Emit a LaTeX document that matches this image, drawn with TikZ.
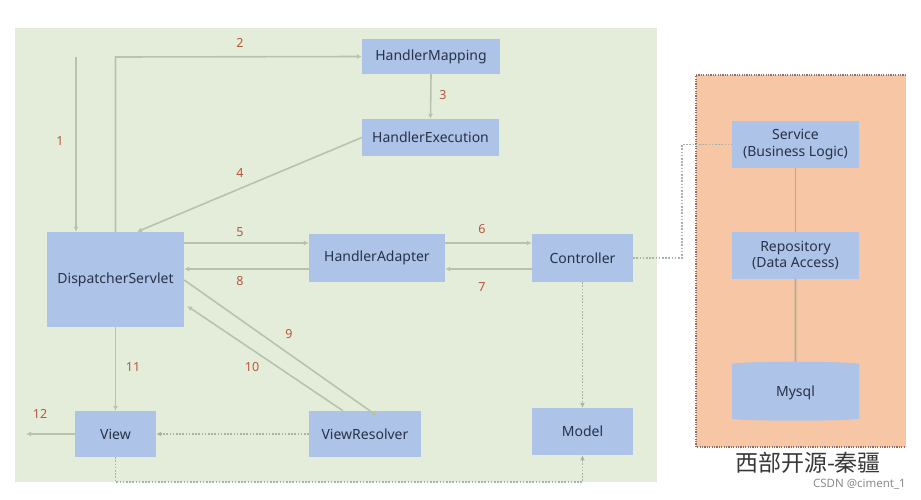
\documentclass[tikz,border=0pt]{standalone}
\usepackage{fontspec}
\setmainfont{Noto Sans}
\newfontfamily\cjk{Noto Sans CJK SC}
\usetikzlibrary{arrows.meta,shapes.geometric}
\definecolor{greenbg}{HTML}{E3EDDA}
\definecolor{orangebg}{HTML}{F7C6A5}
\definecolor{boxblue}{HTML}{AEC3E8}
\definecolor{txtblue}{HTML}{27324A}
\definecolor{arrgrey}{HTML}{B7C3AF}
\definecolor{dotgrey}{HTML}{A9B2A9}
\definecolor{lblred}{HTML}{B8553F}
\definecolor{bordermauve}{HTML}{8C6E6E}
\definecolor{linkgrey}{HTML}{B5A99F}
\tikzset{
  box/.style={rectangle, fill=boxblue, text=txtblue, font=\fontsize{14}{16.5}\selectfont, align=center, inner sep=0pt},
  arr/.style={draw=arrgrey, line width=1.6pt, -{Latex[length=5pt,width=5pt]}},
  dotarr/.style={draw=dotgrey, line width=1.6pt, dash pattern=on 1.6pt off 1.6pt, -{Latex[length=5pt,width=5pt]}},
  dotline/.style={draw=dotgrey, line width=1.6pt, dash pattern=on 1.6pt off 1.6pt},
  lbl/.style={text=lblred, font=\fontsize{12.5}{14}\selectfont, inner sep=0pt},
  link/.style={draw=linkgrey, line width=1.6pt}
}
\begin{document}
\begin{tikzpicture}[x=1pt,y=-1pt]
\useasboundingbox[fill=white] (0,0) rectangle (921,499);
% backgrounds
\fill[greenbg] (15,28) rectangle (657,482);
\fill[orangebg] (696,75) rectangle (906,447);
\draw[bordermauve, line width=1.4pt, dash pattern=on 1.2pt off 1.2pt] (906,75) -- (696,75) -- (696,447) -- (906,447);
% nodes
\node[box, minimum width=138pt, minimum height=35pt] (HM) at (431,56.5) {HandlerMapping};
\node[box, minimum width=137pt, minimum height=37pt] (HE) at (430.5,137.5) {HandlerExecution};
\node[box, minimum width=137pt, minimum height=95pt] (DS) at (115.5,279.5) {DispatcherServlet};
\node[box, minimum width=136pt, minimum height=48pt] (HA) at (377,258) {HandlerAdapter};
\node[box, minimum width=101pt, minimum height=48pt] (CT) at (582.5,258) {Controller};
\node[box, minimum width=81pt, minimum height=46pt] (VW) at (115.5,434) {View};
\node[box, minimum width=112pt, minimum height=46pt] (VR) at (365,434) {ViewResolver};
\node[box, minimum width=101pt, minimum height=47pt] (MD) at (582.5,431.5) {Model};
\node[box, minimum width=127pt, minimum height=47pt] (SV) at (795.5,144.5) {Service\\(Business Logic)};
\node[box, minimum width=127pt, minimum height=47pt] (RP) at (795.5,255.5) {Repository\\(Data Access)};
\node[box, cylinder, shape border rotate=90, aspect=0.12, minimum width=127pt, minimum height=59pt] (DB) at (795.5,392.5) {\raisebox{-4pt}{Mysql}};
% free ends
\coordinate (s1) at (76,57);
\coordinate (e12) at (26,434);
\coordinate (bend2) at (115.5,57);
\coordinate (bot) at (0,482);
\coordinate (bendC) at (682,0);
% connectors
\draw[arr] (s1) -- (s1 |- DS.north);
\draw[arr] (DS.north) -- (bend2) -- (HM.west);
\draw[arr] (HM.south) -- (HE.north);
\draw[arr] (HE.west) -- ([xshift=21.5pt]DS.north);
\draw[arr] (DS.east |- 0,243) -- (HA.west |- 0,243);
\draw[arr] (HA.east |- 0,243) -- (CT.west |- 0,243);
\draw[arr] (CT.west |- 0,269) -- (HA.east |- 0,269);
\draw[arr] (HA.west |- 0,269) -- (DS.east |- 0,269);
\draw[arr] (DS.east |- 0,280) -- ([xshift=12pt,yshift=-5pt]VR.north);
\draw[arr] ([xshift=-22pt]VR.north) -- ([xshift=3pt]DS.east |- 0,306);
\draw[arr] (DS.south) -- (VW.north);
\draw[arr] (VW.west) -- (e12);
\draw[dotarr] (VR.west) -- (VW.east);
\draw[dotarr] (VW.south) -- (VW.south |- bot) -- (MD.south |- bot) -- (MD.south);
\draw[dotarr] (CT.south) -- (MD.north);
\draw[dotline] (CT.east) -- (bendC |- CT.east) -- (bendC |- SV.west) -- (SV.west);
\draw[link] (SV.south) -- (RP.north);
\draw[link] (RP.south) -- (DB.north);
% labels
\node[lbl] (l1) at (60,141) {1};
\node[lbl] (l2) at (240,43) {2};
\node[lbl] (l3) at (443,95) {3};
\node[lbl] (l4) at (240,173) {4};
\node[lbl] (l5) at (240,232) {5};
\node[lbl] (l6) at (482,229) {6};
\node[lbl] (l7) at (482,287) {7};
\node[lbl] (l8) at (240,281) {8};
\node[lbl] (l9) at (289,334) {9};
\node[lbl] (l10) at (252,367) {10};
\node[lbl] (l11) at (133,367) {11};
\node[lbl] (l12) at (40,414) {12};
% captions
\node[text=black!78, font=\cjk\fontsize{23}{25}\selectfont, inner sep=0pt] (cap) at (808,463) {西部开源-秦疆};
\node[text=black!45, font=\fontsize{11.5}{13}\selectfont, inner sep=0pt, anchor=east] (csdn) at (906,484) {CSDN @ciment\_1};
\end{tikzpicture}
\end{document}
